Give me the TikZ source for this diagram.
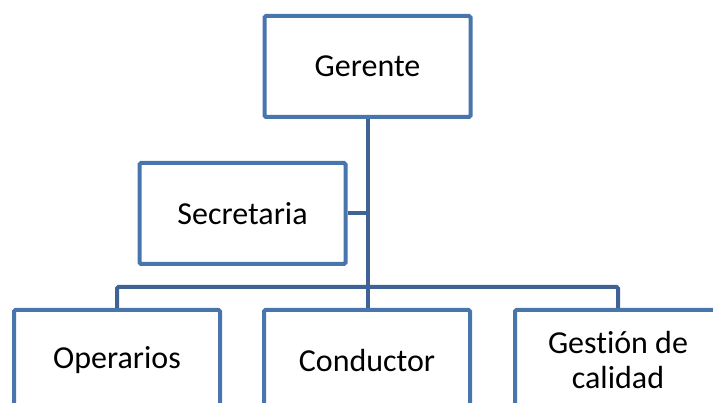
\documentclass[tikz,border=0pt]{standalone}
\usepackage{fontspec}
\setmainfont{Carlito}[Ligatures=NoCommon]
\usetikzlibrary{positioning}
\definecolor{cajaazul}{RGB}{72,117,172}
\definecolor{lineaazul}{RGB}{62,99,148}
\tikzset{
	cargo/.style={draw=cajaazul, line width=4pt, rounded corners=1.5pt, fill=white, minimum width=206pt, minimum height=101pt, inner sep=0pt, align=center, font=\fontsize{32}{35}\selectfont},
	enlace/.style={draw=lineaazul, line width=4pt}
}

\begin{document}
\begin{tikzpicture}[x=1pt, y=-1pt]
		\useasboundingbox (0, 0) rectangle (713, 403);
		\clip (0, 0) rectangle (713, 403);
		% conectores
		\coordinate (bus) at (367, 287);
		\node[cargo](ger) at (367.5, 66.5){Gerente};
		\node[cargo](sec) at (242.5, 213.5){Secretaria};
		\node[cargo](ope) at (117, 360.5){Operarios};
		\node[cargo](con) at (367, 360.5){Conductor};
		\node[cargo](ges) at (618, 360.5){Gestión de\\calidad};
		\draw[enlace](ger.south)--(ger.south |- con.north);
		\draw[enlace](sec.east)--(sec.east -| ger.south);
		\draw[enlace, rounded corners=1.5pt](ope.north)--(ope.north |- bus)--(ges.north |- bus)--(ges.north);
\end{tikzpicture}
\end{document}
